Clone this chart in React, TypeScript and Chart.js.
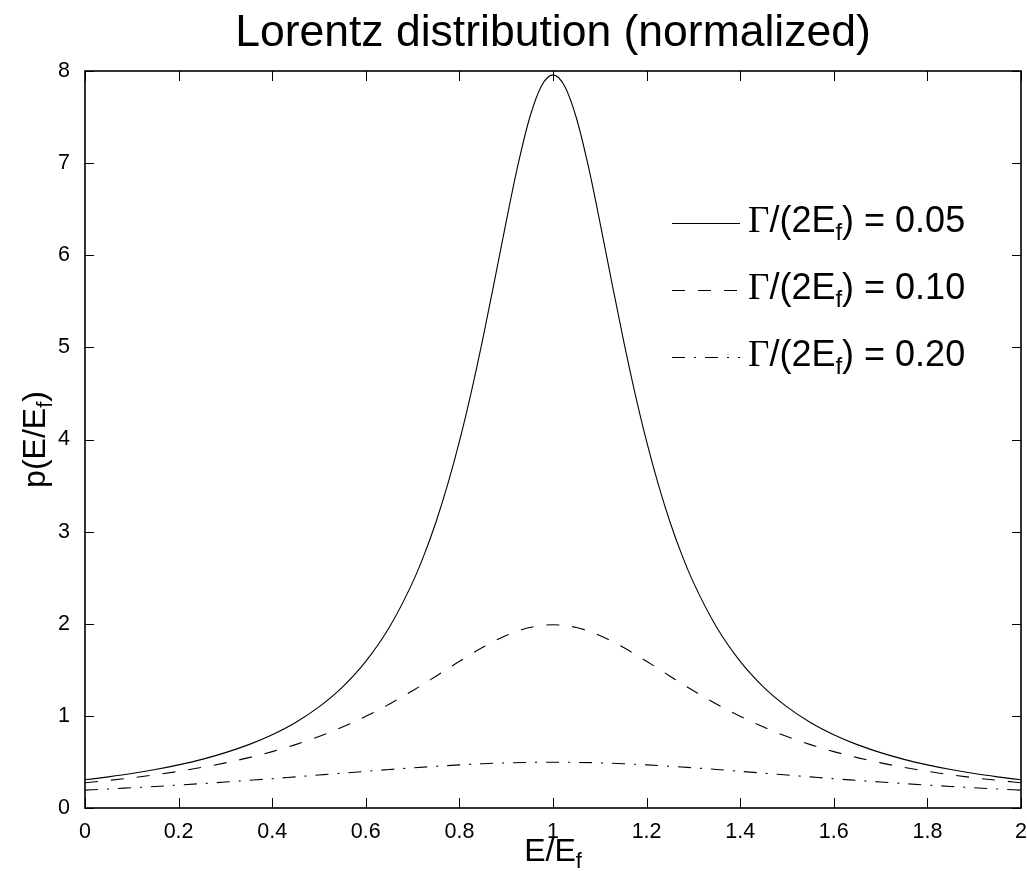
import React, { useEffect, useRef } from "react";
import { Chart, registerables } from "chart.js";

Chart.register(...registerables);

// E/E_f sample positions (denser near the sharp peak of the narrow curve)
const xFine = [
  0, 0.05, 0.1, 0.15, 0.2, 0.25, 0.3, 0.35, 0.4, 0.45, 0.5, 0.55, 0.6, 0.65, 0.7,
  0.725, 0.75, 0.775, 0.8, 0.825, 0.85, 0.875, 0.9, 0.925, 0.95, 0.975, 1,
  1.025, 1.05, 1.075, 1.1, 1.125, 1.15, 1.175, 1.2, 1.225, 1.25, 1.275, 1.3,
  1.35, 1.4, 1.45, 1.5, 1.55, 1.6, 1.65, 1.7, 1.75, 1.8, 1.85, 1.9, 1.95, 2,
];
// Γ/(2E_f) = 0.05
const solidValues = [
  0.306, 0.338, 0.374, 0.417, 0.468, 0.528, 0.601, 0.688, 0.796, 0.929, 1.098, 1.313, 1.592, 1.959, 2.449,
  2.753, 3.105, 3.512, 3.979, 4.507, 5.093, 5.722, 6.366, 6.977, 7.49, 7.835, 7.958,
  7.835, 7.49, 6.977, 6.366, 5.722, 5.093, 4.507, 3.979, 3.512, 3.105, 2.753, 2.449,
  1.959, 1.592, 1.313, 1.098, 0.929, 0.796, 0.688, 0.601, 0.528, 0.468, 0.417, 0.374, 0.338, 0.306,
];

const xCoarse = [
  0, 0.05, 0.1, 0.15, 0.2, 0.25, 0.3, 0.35, 0.4, 0.45, 0.5, 0.55, 0.6, 0.65, 0.7, 0.75, 0.8, 0.85, 0.9, 0.95, 1,
  1.05, 1.1, 1.15, 1.2, 1.25, 1.3, 1.35, 1.4, 1.45, 1.5, 1.55, 1.6, 1.65, 1.7, 1.75, 1.8, 1.85, 1.9, 1.95, 2,
];
// Γ/(2E_f) = 0.10
const dashedValues = [
  0.274, 0.3, 0.328, 0.361, 0.398, 0.441, 0.49, 0.547, 0.612, 0.688, 0.776, 0.878, 0.995, 1.127, 1.273, 1.431, 1.592, 1.744, 1.872, 1.959, 1.989,
  1.959, 1.872, 1.744, 1.592, 1.431, 1.273, 1.127, 0.995, 0.878, 0.776, 0.688, 0.612, 0.547, 0.49, 0.441, 0.398, 0.361, 0.328, 0.3, 0.274,
];
// Γ/(2E_f) = 0.20
const dashDotValues = [
  0.194, 0.206, 0.22, 0.234, 0.249, 0.265, 0.282, 0.3, 0.318, 0.338, 0.358, 0.378, 0.398, 0.418, 0.436, 0.453, 0.468, 0.481, 0.49, 0.495, 0.497,
  0.495, 0.49, 0.481, 0.468, 0.453, 0.436, 0.418, 0.398, 0.378, 0.358, 0.338, 0.318, 0.3, 0.282, 0.265, 0.249, 0.234, 0.22, 0.206, 0.194,
];

const xTicks = [0, 0.2, 0.4, 0.6, 0.8, 1, 1.2, 1.4, 1.6, 1.8, 2];
const yTicks = [0, 1, 2, 3, 4, 5, 6, 7, 8];
const legendValues = ["0.05", "0.10", "0.20"];
const legendDashes: number[][] = [[], [13, 13], [13, 9, 2, 9]];
const titleText = "Lorentz distribution (normalized)";

const SANS = "'Liberation Sans', Arial, sans-serif";
const SERIF = "'Liberation Serif', 'Times New Roman', serif";

type Part = { t: string; font: string; dy?: number };

function partsWidth(ctx: CanvasRenderingContext2D, parts: Part[]) {
  let w = 0;
  for (const p of parts) {
    ctx.font = p.font;
    w += ctx.measureText(p.t).width;
  }
  return w;
}

function drawParts(ctx: CanvasRenderingContext2D, parts: Part[], x: number, y: number) {
  let cx = x;
  for (const p of parts) {
    ctx.font = p.font;
    ctx.fillText(p.t, cx, y + (p.dy || 0));
    cx += ctx.measureText(p.t).width;
  }
}

const decorPlugin = {
  id: "matlabDecor",
  afterDraw(chart: any) {
    const ctx: CanvasRenderingContext2D = chart.ctx;
    const { left, right, top, bottom } = chart.chartArea;
    const xs = chart.scales.x;
    const ys = chart.scales.y;
    ctx.save();
    ctx.strokeStyle = "#000";
    ctx.fillStyle = "#000";
    ctx.setLineDash([]);

    // inward tick marks on all four sides
    ctx.lineWidth = 1;
    ctx.beginPath();
    for (const t of xs.ticks) {
      const px = Math.round(xs.getPixelForValue(t.value)) + 0.5;
      ctx.moveTo(px, bottom);
      ctx.lineTo(px, bottom - 10);
      ctx.moveTo(px, top);
      ctx.lineTo(px, top + 10);
    }
    for (const t of ys.ticks) {
      const py = Math.round(ys.getPixelForValue(t.value)) + 0.5;
      ctx.moveTo(left, py);
      ctx.lineTo(left + 9, py);
      ctx.moveTo(right, py);
      ctx.lineTo(right - 9, py);
    }
    ctx.stroke();

    // axes box
    ctx.lineWidth = 1.6;
    ctx.strokeRect(left, top, right - left, bottom - top);

    ctx.textAlign = "left";
    ctx.textBaseline = "alphabetic";

    // x axis label
    const xParts: Part[] = [
      { t: "E/E", font: `32px ${SANS}` },
      { t: "f", font: `22px ${SANS}`, dy: 7 },
    ];
    const xw = partsWidth(ctx, xParts);
    drawParts(ctx, xParts, (left + right) / 2 - xw / 2, 861);

    // y axis label (rotated)
    const yParts: Part[] = [
      { t: "p(E/E", font: `32px ${SANS}` },
      { t: "f", font: `22px ${SANS}`, dy: 7 },
      { t: ")", font: `32px ${SANS}` },
    ];
    const yw = partsWidth(ctx, yParts);
    ctx.save();
    ctx.translate(45, (top + bottom) / 2);
    ctx.rotate(-Math.PI / 2);
    drawParts(ctx, yParts, -yw / 2, 0);
    ctx.restore();

    // legend
    chart.data.datasets.forEach((ds: any, i: number) => {
      const baseY = 231.5 + i * 67;
      const lineY = Math.round(baseY - 9) + 0.5;
      ctx.lineWidth = 1;
      ctx.setLineDash(legendDashes[i]);
      ctx.beginPath();
      ctx.moveTo(672, lineY);
      ctx.lineTo(740, lineY);
      ctx.stroke();
      ctx.setLineDash([]);
      const parts: Part[] = [
        { t: "Γ", font: `37px ${SERIF}` },
        { t: "/(2E", font: `36px ${SANS}` },
        { t: "f", font: `24px ${SANS}`, dy: 8 },
        { t: ") = " + legendValues[i], font: `36px ${SANS}` },
      ];
      drawParts(ctx, parts, 748, baseY);
    });

    ctx.restore();
  },
};

export default function App() {
  const canvasRef = useRef<HTMLCanvasElement | null>(null);

  useEffect(() => {
    const canvas = canvasRef.current;
    if (!canvas) return;
    const chart = new Chart(canvas, {
      type: "line",
      data: {
        datasets: [
          {
            label: "Γ/(2E_f) = 0.05",
            data: xFine.map((x, i) => ({ x, y: solidValues[i] })),
            borderColor: "#000",
            borderWidth: 1.1,
            pointRadius: 0,
            cubicInterpolationMode: "monotone",
            fill: false,
          },
          {
            label: "Γ/(2E_f) = 0.10",
            data: xCoarse.map((x, i) => ({ x, y: dashedValues[i] })),
            borderColor: "#000",
            borderWidth: 1.1,
            borderDash: [13, 13],
            pointRadius: 0,
            cubicInterpolationMode: "monotone",
            fill: false,
          },
          {
            label: "Γ/(2E_f) = 0.20",
            data: xCoarse.map((x, i) => ({ x, y: dashDotValues[i] })),
            borderColor: "#000",
            borderWidth: 1.1,
            borderDash: [13, 9, 2, 9],
            pointRadius: 0,
            cubicInterpolationMode: "monotone",
            fill: false,
          },
        ],
      },
      options: {
        animation: false,
        responsive: false,
        devicePixelRatio: 1,
        layout: { padding: { left: 0, right: 6, top: 0, bottom: 0 } },
        plugins: {
          legend: { display: false },
          tooltip: { enabled: false },
          title: {
            display: true,
            text: titleText,
            fullSize: false,
            color: "#000",
            font: { family: SANS, size: 44.5, weight: "normal" as any, lineHeight: 1.2 },
            padding: { top: 7, bottom: 10.6 },
          },
        },
        scales: {
          x: {
            type: "linear",
            min: 0,
            max: 2,
            afterBuildTicks: (scale: any) => {
              scale.ticks = xTicks.map((v) => ({ value: v }));
            },
            afterFit: (scale: any) => {
              scale.height = 63;
              scale.paddingLeft = 0;
              scale.paddingRight = 0;
            },
            grid: { display: false },
            border: { display: false },
            ticks: {
              color: "#000",
              padding: 3,
              maxRotation: 0,
              autoSkip: false,
              font: { family: SANS, size: 21.5 },
              callback: (v: any) => String(Number(Number(v).toFixed(1))),
            },
          },
          y: {
            type: "linear",
            min: 0,
            max: 8,
            afterBuildTicks: (scale: any) => {
              scale.ticks = yTicks.map((v) => ({ value: v }));
            },
            afterFit: (scale: any) => {
              scale.width = 85;
              scale.paddingTop = 0;
              scale.paddingBottom = 0;
            },
            grid: { display: false },
            border: { display: false },
            ticks: {
              color: "#000",
              padding: 7,
              autoSkip: false,
              font: { family: SANS, size: 21.5 },
              callback: (v: any) => String(v),
            },
          },
        },
      },
      plugins: [decorPlugin],
    });
    return () => chart.destroy();
  }, []);

  return (
    <div style={{ position: "absolute", left: 0, top: 0, width: 1027, height: 871, background: "#fff" }}>
      <canvas ref={canvasRef} width={1027} height={871} style={{ display: "block" }} />
    </div>
  );
}
